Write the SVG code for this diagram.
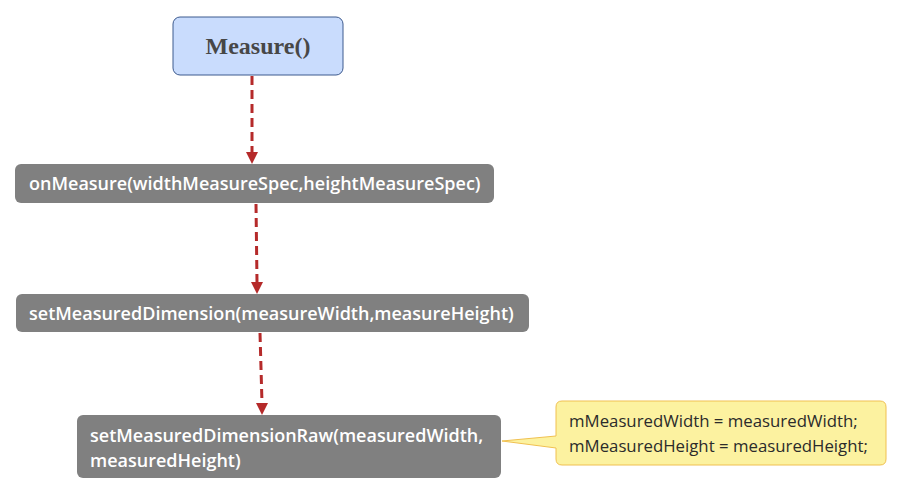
<svg xmlns="http://www.w3.org/2000/svg" width="902" height="495" viewBox="0 0 902 495">
<defs>
<style>
.proc rect{fill:#808080;}
.proc text{fill:#ffffff;font-family:"Open Sans","Noto Sans",sans-serif;font-weight:600;font-size:18px;}
.conn{stroke:#b52a2a;stroke-width:3;stroke-dasharray:9,5;fill:none;}
.head{fill:#b52a2a;}
.note text{fill:#2b2b2b;font-family:"Open Sans","Noto Sans",sans-serif;font-size:16.8px;}
</style>
</defs>
<rect width="902" height="495" fill="#ffffff"/>
<g id="connectors">
<line class="conn" x1="252" y1="76" x2="252" y2="152"/>
<path class="head" d="M246,152 L258,152 L252,164 Z"/>
<line class="conn" x1="256" y1="204" x2="257" y2="282"/>
<path class="head" d="M251,282 L263,282 L257,294 Z"/>
<line class="conn" x1="260" y1="333" x2="262" y2="403"/>
<path class="head" d="M256,403 L268,403 L262,415 Z"/>
</g>
<g id="measure">
<rect x="173" y="17" width="170" height="58" rx="7" fill="#c9dcfd" stroke="#3d5a8e" stroke-width="1"/>
<text x="258" y="54" text-anchor="middle" font-family="'Liberation Serif',serif" font-weight="bold" font-size="24" fill="#474747">Measure()</text>
</g>
<g id="onMeasure" class="proc">
<rect x="15" y="164" width="479" height="39" rx="6"/>
<text x="29" y="190">onMeasure(widthMeasureSpec,heightMeasureSpec)</text>
</g>
<g id="setMeasuredDimension" class="proc">
<rect x="16" y="294" width="513" height="38" rx="6"/>
<text x="29" y="320">setMeasuredDimension(measureWidth,measureHeight)</text>
</g>
<g id="setMeasuredDimensionRaw" class="proc">
<rect x="77" y="415" width="424" height="63" rx="6"/>
<text x="90" y="442">setMeasuredDimensionRaw(measuredWidth,</text>
<text x="90" y="467">measuredHeight)</text>
</g>
<g id="note" class="note">
<path d="M562,401 L880,401 Q886,401 886,407 L886,459 Q886,465 880,465 L562,465 Q556,465 556,459 L556,448 L502,441 L556,436 L556,407 Q556,401 562,401 Z" fill="#fcf2a0" stroke="#f0c050" stroke-width="1"/>
<text x="569" y="427">mMeasuredWidth = measuredWidth;</text>
<text x="569" y="452">mMeasuredHeight = measuredHeight;</text>
</g>
</svg>
